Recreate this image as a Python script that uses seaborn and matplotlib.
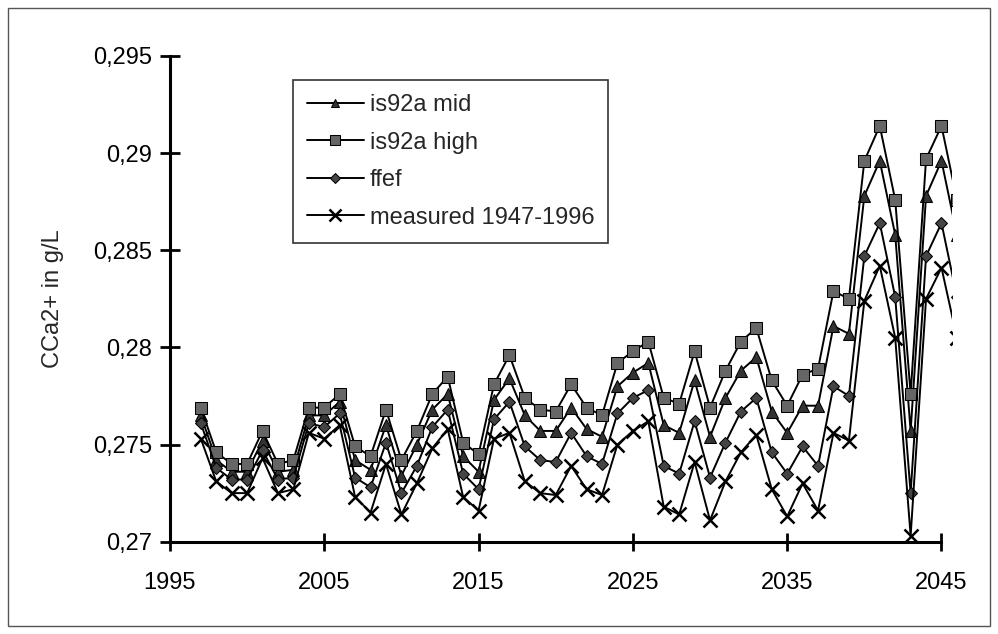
"""
CCa2+ concentration scenarios 1997-2045 (is92a mid / high, ffef, measured).
"""

import numpy as np
import pandas as pd
import matplotlib
matplotlib.use('Agg')
import matplotlib.pyplot as plt
import seaborn as sns

# yearly values (2046 is drawn but falls just outside the axis)
years = list(range(1997, 2047))

is92a_mid = [
    0.2765, 0.2742, 0.2736, 0.2736, 0.2752, 0.2736, 0.2737, 0.2765, 0.2765, 0.2772,
    0.2742, 0.2737, 0.2760, 0.2734, 0.2750, 0.2768, 0.2776, 0.2744, 0.2736, 0.2773,
    0.2784, 0.2765, 0.2757, 0.2757, 0.2769, 0.2758, 0.2754, 0.2780, 0.2787, 0.2792,
    0.2760, 0.2756, 0.2783, 0.2754, 0.2774, 0.2788, 0.2795, 0.2767, 0.2756, 0.2770,
    0.2770, 0.2811, 0.2807, 0.2878, 0.2896, 0.2858, 0.2757, 0.2878, 0.2896, 0.2858,
]
is92a_high = [
    0.2769, 0.2746, 0.2740, 0.2740, 0.2757, 0.2740, 0.2742, 0.2769, 0.2769, 0.2776,
    0.2749, 0.2744, 0.2768, 0.2742, 0.2757, 0.2776, 0.2785, 0.2751, 0.2745, 0.2781,
    0.2796, 0.2774, 0.2768, 0.2767, 0.2781, 0.2769, 0.2765, 0.2792, 0.2798, 0.2803,
    0.2774, 0.2771, 0.2798, 0.2769, 0.2788, 0.2803, 0.2810, 0.2783, 0.2770, 0.2786,
    0.2789, 0.2829, 0.2825, 0.2896, 0.2914, 0.2876, 0.2776, 0.2897, 0.2914, 0.2876,
]
ffef = [
    0.2761, 0.2738, 0.2732, 0.2732, 0.2747, 0.2732, 0.2733, 0.2761, 0.2759, 0.2766,
    0.2733, 0.2728, 0.2751, 0.2725, 0.2739, 0.2759, 0.2768, 0.2735, 0.2727, 0.2763,
    0.2772, 0.2749, 0.2742, 0.2741, 0.2756, 0.2744, 0.2740, 0.2766, 0.2774, 0.2778,
    0.2739, 0.2735, 0.2762, 0.2733, 0.2751, 0.2767, 0.2774, 0.2746, 0.2735, 0.2749,
    0.2739, 0.2780, 0.2775, 0.2847, 0.2864, 0.2826, 0.2725, 0.2847, 0.2864, 0.2826,
]
measured = [
    0.2753, 0.2731, 0.2725, 0.2725, 0.2743, 0.2725, 0.2727, 0.2756, 0.2753, 0.2760,
    0.2723, 0.2715, 0.2740, 0.2714, 0.2730, 0.2748, 0.2758, 0.2723, 0.2716, 0.2753,
    0.2756, 0.2731, 0.2725, 0.2724, 0.2739, 0.2727, 0.2724, 0.2750, 0.2757, 0.2762,
    0.2718, 0.2714, 0.2741, 0.2711, 0.2731, 0.2746, 0.2755, 0.2727, 0.2713, 0.2730,
    0.2716, 0.2756, 0.2752, 0.2824, 0.2842, 0.2805, 0.2703, 0.2825, 0.2841, 0.2805,
]

series_names = ['is92a mid', 'is92a high', 'ffef', 'measured 1947-1996']
series_values = [is92a_mid, is92a_high, ffef, measured]

x_ticks = [1995, 2005, 2015, 2025, 2035, 2045]
y_ticks = [0.27, 0.275, 0.28, 0.285, 0.29, 0.295]
y_tick_labels = ['0,27', '0,275', '0,28', '0,285', '0,29', '0,295']

# marker look per series
styles = {
    'is92a mid': dict(marker='^', markersize=8, markerfacecolor='#333333'),
    'is92a high': dict(marker='s', markersize=9, markerfacecolor='#666666'),
    'ffef': dict(marker='D', markersize=6, markerfacecolor='#444444'),
    'measured 1947-1996': dict(marker='x', markersize=10, markeredgewidth=1.8),
}

sns.set_style('ticks')
plt.rcParams['font.family'] = ['Liberation Sans', 'DejaVu Sans']

fig = plt.figure(figsize=(9.98, 6.34), dpi=100)
ax = fig.add_axes([0.1703, 0.1456, 0.7839, 0.7661])

for name, vals in zip(series_names, series_values):
    df = pd.DataFrame({'year': years, 'value': vals})
    sns.lineplot(data=df, x='year', y='value', ax=ax, color='black',
                 linewidth=1.4, markeredgecolor='black', label=name,
                 **styles[name])

ax.set_xlim(1995, 2045.7)
ax.set_ylim(0.27, 0.295)
ax.set_xticks(x_ticks)
ax.set_xticklabels([str(t) for t in x_ticks])
ax.set_yticks(y_ticks)
ax.set_yticklabels(y_tick_labels)
ax.tick_params(axis='x', direction='inout', length=13, width=2, pad=15,
               labelsize=17, colors='black')
ax.tick_params(axis='y', direction='inout', length=14, width=2, pad=6,
               labelsize=17, colors='black')

sns.despine(ax=ax)
for side in ['left', 'bottom']:
    ax.spines[side].set_linewidth(2.2)
    ax.spines[side].set_color('black')
ax.spines['bottom'].set_bounds(1995, 2045)

ax.set_xlabel('')
ax.set_ylabel('CCa2+ in g/L', fontsize=17)
ax.yaxis.set_label_coords(-0.135, 0.5)

leg = ax.legend(loc='upper left', bbox_to_anchor=(0.157, 0.951),
                borderaxespad=0, fancybox=False, frameon=True,
                edgecolor='black', fontsize=17, handlelength=2.4,
                labelspacing=0.66, borderpad=0.6, handletextpad=0.25,
                markerscale=0.8)
leg.get_frame().set_linewidth(1.2)

# thin frame around the whole picture
fig.patches.append(plt.Rectangle((0.008, 0.012), 0.984, 0.975,
                                 transform=fig.transFigure, fill=False,
                                 edgecolor='#555555', linewidth=1.0))

fig.savefig('out.png', dpi=100)
